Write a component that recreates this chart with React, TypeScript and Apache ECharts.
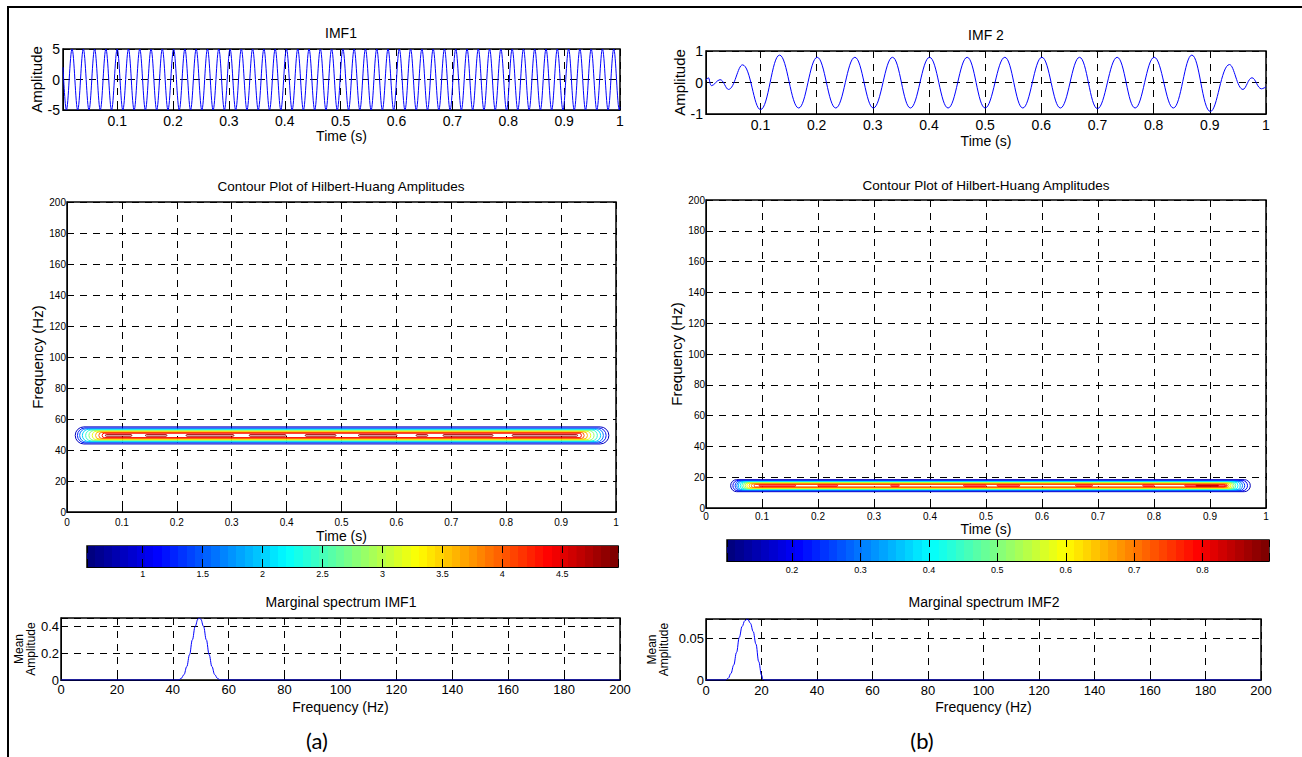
import React, { useEffect, useRef } from "react";
import * as echarts from "echarts";

const FONT = "'Liberation Sans', Arial, Helvetica, sans-serif";
const BLACK = "#000";
const BLUE = "#0000ff";
const DASH = [7, 6];

// ---------------- titles ----------------
const titleIMF1 = "IMF1";
const titleIMF2 = "IMF 2";
const titleContour = "Contour Plot of Hilbert-Huang Amplitudes";
const titleMarg1 = "Marginal spectrum IMF1";
const titleMarg2 = "Marginal spectrum IMF2";
const panelLabels = ["(a)", "(b)"];

// ---------------- IMF 1 (amplitude ±5, ~49.5 Hz) ----------------
const imfTimeMin = 0.003;
const imf1AmpRange = [-5, 5];
const imf1StartPoint = [0.003, 2.0];
const imf1FirstExtremumT = 0.0091; // time of first trough (s)
const imf1HalfPeriod = 0.0101; // spacing between successive extrema (s)
const imf1Extrema = [
  -5, 5, -5, 5, -5, 5, -5, 5, -5, 5,
  -5, 5, -5, 5, -5, 5, -5, 5, -5, 5,
  -5, 5, -5, 5, -5, 5, -5, 5, -5, 5,
  -5, 5, -5, 5, -5, 5, -5, 5, -5, 5,
  -5, 5, -5, 5, -5, 5, -5, 5, -5, 5,
  -5, 5, -5, 5, -5, 5, -5, 5, -5, 5,
  -5, 5, -5, 5, -5, 5, -5, 5, -5, 5,
  -5, 5, -5, 5, -5, 5, -5, 5, -5, 5,
  -5, 5, -5, 5, -5, 5, -5, 5, -5, 5,
  -5, 5, -5, 5, -5, 5, -5, 5, -5,
];
const imf1EndPoint = [1.0, -4.5];

// ---------------- IMF 2 (time, amplitude) extrema ----------------
const imf2AmpRange = [-1, 1];
const imf2Time = [
  0.003, 0.007, 0.013, 0.028, 0.043, 0.068, 0.1, 0.134, 0.168, 0.201, 0.234, 0.268,
  0.301, 0.335, 0.367, 0.401, 0.434, 0.468, 0.5, 0.535, 0.567, 0.601, 0.634, 0.668,
  0.7, 0.735, 0.767, 0.801, 0.835, 0.868, 0.901, 0.935, 0.959, 0.975, 0.992, 1.0,
];
const imf2Amp = [
  0.07, 0.15, -0.1, 0.09, -0.22, 0.56, -0.86, 0.87, -0.81, 0.8, -0.81, 0.8,
  -0.81, 0.8, -0.81, 0.8, -0.81, 0.8, -0.81, 0.8, -0.81, 0.8, -0.81, 0.8,
  -0.83, 0.8, -0.81, 0.8, -0.81, 0.87, -0.92, 0.57, -0.22, 0.15, -0.2, -0.14,
];

// ---------------- Contour IMF1 ----------------
const c1ColorRange = [0.535, 4.965];
const c1Levels = [0.8, 1.2, 1.6, 2.0, 2.4, 2.8, 3.2, 3.6, 4.0, 4.4];
const c1TStart = [0.015, 0.019, 0.023, 0.028, 0.034, 0.04, 0.046, 0.052, 0.058, 0.064];
const c1TEnd = [0.987, 0.982, 0.977, 0.972, 0.966, 0.96, 0.954, 0.948, 0.942, 0.937];
const c1FLow = [43.9, 44.6, 45.1, 45.5, 45.9, 46.3, 46.7, 47.1, 47.5, 48.0];
const c1FHigh = [54.9, 54.2, 53.7, 53.3, 52.9, 52.5, 52.1, 51.7, 51.3, 50.8];
const c1CoreLevel = 4.8;
const c1CoreF = [48.9, 49.9];
const c1CoreSegments = [
  [0.07, 0.118], [0.143, 0.182], [0.217, 0.304], [0.332, 0.399], [0.434, 0.49],
  [0.531, 0.601], [0.636, 0.657], [0.685, 0.776], [0.811, 0.93],
];

// ---------------- Contour IMF2 ----------------
const c2ColorRange = [0.105, 0.897];
const c2Levels = [0.15, 0.2, 0.25, 0.3, 0.35, 0.4, 0.45, 0.5, 0.55, 0.6, 0.65, 0.7, 0.75];
const c2TStart = [0.044, 0.048, 0.052, 0.055, 0.058, 0.061, 0.064, 0.067, 0.07, 0.073, 0.077, 0.081, 0.086];
const c2TEnd = [0.972, 0.967, 0.962, 0.958, 0.954, 0.95, 0.946, 0.943, 0.94, 0.937, 0.934, 0.931, 0.927];
const c2FLow = [10.6, 11.1, 11.4, 11.65, 11.9, 12.1, 12.3, 12.5, 12.7, 12.9, 13.15, 13.4, 13.65];
const c2FHigh = [18.4, 17.9, 17.6, 17.35, 17.1, 16.9, 16.7, 16.5, 16.3, 16.1, 15.85, 15.6, 15.35];
const c2CoreLevel = 0.8;
const c2CoreF = [14.1, 14.9];
const c2CoreSegments = [
  [0.095, 0.16], [0.2, 0.235], [0.33, 0.345], [0.46, 0.5], [0.52, 0.56],
  [0.66, 0.69], [0.78, 0.8], [0.855, 0.93],
];
const c2PeakLevel = 0.85;
const c2PeakF = [14.2, 14.7];
const c2PeakSegments = [[0.875, 0.915]];

// ---------------- Marginal spectra ----------------
const marg1Freq = [0, 42, 43, 44, 45, 46, 47, 48, 49, 49.5, 50, 51, 52, 53, 54, 55, 56, 57, 200];
const marg1Amp = [0, 0, 0.012, 0.04, 0.1, 0.19, 0.3, 0.4, 0.455, 0.463, 0.455, 0.4, 0.3, 0.19, 0.1, 0.04, 0.012, 0, 0];
const marg1Max = 0.463;
const marg2Freq = [0, 7, 8, 9, 10, 11, 12, 13, 14, 15, 16, 17, 18, 19, 20, 20.5, 21, 200];
const marg2Amp = [0, 0, 0.002, 0.008, 0.018, 0.033, 0.051, 0.064, 0.071, 0.073, 0.068, 0.058, 0.043, 0.022, 0.006, 0.001, 0, 0];
const marg2Max = 0.073;

// ---------------- helpers ----------------
function jet(x: number) {
  const c = (v: number) => Math.max(0, Math.min(1, v));
  const r = c(1.5 - Math.abs(4 * x - 3));
  const g = c(1.5 - Math.abs(4 * x - 2));
  const b = c(1.5 - Math.abs(4 * x - 1));
  return `rgb(${Math.round(r * 255)},${Math.round(g * 255)},${Math.round(b * 255)})`;
}

function jetGradient() {
  const n = 64;
  const stops: any[] = [];
  for (let i = 0; i < n; i++) {
    const col = jet(i / (n - 1));
    stops.push({ offset: i / n, color: col });
    stops.push({ offset: (i + 1) / n - 1e-4, color: col });
  }
  return new echarts.graphic.LinearGradient(0, 0, 1, 0, stops);
}

const tickFmt = (step: number) => (v: number) => {
  const k = Math.round(v / step);
  if (Math.abs(k * step - v) > step * 1e-6) return "";
  return String(+(k * step).toFixed(6));
};

function valueAxis(o: any) {
  return {
    type: "value",
    gridIndex: o.gridIndex,
    min: o.min,
    max: o.max,
    interval: o.interval,
    splitNumber: o.splitNumber,
    z: o.z,
    axisLine: { show: true, onZero: false, lineStyle: { color: BLACK, width: 1 } },
    axisTick: { show: true, inside: true, length: 4, lineStyle: { color: BLACK, width: 1 } },
    axisLabel: {
      show: o.showLabels !== false,
      color: BLACK,
      fontFamily: FONT,
      fontSize: o.fontSize,
      margin: o.margin,
      formatter: tickFmt(o.step),
      showMinLabel: true,
      showMaxLabel: true,
      hideOverlap: false,
    },
    splitLine: { show: o.splitLine !== false, lineStyle: { color: BLACK, width: 1, type: DASH } },
    name: o.name,
    nameLocation: "middle",
    nameGap: o.nameGap,
    nameTextStyle: { color: BLACK, fontFamily: FONT, fontSize: o.nameSize, lineHeight: o.nameLineHeight },
  };
}

function contourItems(levels: number[], t0: number[], t1: number[], f0: number[], f1: number[],
  coreLevel: number, coreF: number[], coreSeg: number[][]) {
  const items: number[][] = levels.map((lv, i) => [t0[i], t1[i], f0[i], f1[i], lv]);
  coreSeg.forEach((s) => items.push([s[0], s[1], coreF[0], coreF[1], coreLevel]));
  return items;
}

const contourRender = (range: number[]) => (_p: any, api: any) => {
  const a = api.coord([api.value(0), api.value(3)]);
  const b = api.coord([api.value(1), api.value(2)]);
  const w = b[0] - a[0];
  const h = b[1] - a[1];
  const lv = api.value(4);
  return {
    type: "rect",
    shape: { x: a[0], y: a[1], width: w, height: h, r: h / 2 },
    style: { fill: "none", stroke: jet((lv - range[0]) / (range[1] - range[0])), lineWidth: 1 },
  };
};

const colorbarRender = (grad: any) => (_p: any, api: any) => {
  const a = api.coord([api.value(0), 1]);
  const b = api.coord([api.value(1), 0]);
  return {
    type: "rect",
    shape: { x: a[0], y: a[1], width: b[0] - a[0], height: b[1] - a[1] },
    style: { fill: grad },
  };
};

function text(t: string, x: number, y: number, size: number, family = FONT) {
  return {
    type: "text",
    x,
    y,
    style: {
      text: t,
      fill: BLACK,
      font: `${size}px ${family}`,
      textAlign: "center",
      textVerticalAlign: "middle",
      align: "center",
      verticalAlign: "middle",
    },
    silent: true,
  };
}

function buildOption() {
  const grad = jetGradient();
  const gridBase = { show: true, borderColor: BLACK, borderWidth: 1.5, backgroundColor: "#fff", containLabel: false, outerBoundsMode: "none" };
  const grid = [
    { ...gridBase, left: 63, top: 49, width: 557, height: 61 },
    { ...gridBase, left: 706, top: 51, width: 560, height: 63 },
    { ...gridBase, left: 67, top: 202, width: 549, height: 310 },
    { ...gridBase, left: 706, top: 200, width: 560, height: 308 },
    { ...gridBase, left: 87, top: 546, width: 531, height: 21 },
    { ...gridBase, left: 727, top: 540, width: 542, height: 21 },
    { ...gridBase, left: 61, top: 618, width: 559, height: 62 },
    { ...gridBase, left: 706, top: 619, width: 555, height: 61 },
  ];

  const xAxis = [
    valueAxis({ gridIndex: 0, min: imfTimeMin, max: 1, splitNumber: 10, step: 0.1, fontSize: 14, margin: 4, name: "Time (s)", nameGap: 19, nameSize: 14 }),
    valueAxis({ gridIndex: 1, min: imfTimeMin, max: 1, splitNumber: 10, step: 0.1, fontSize: 14, margin: 4, name: "Time (s)", nameGap: 20, nameSize: 14 }),
    valueAxis({ gridIndex: 2, min: 0, max: 1, interval: 0.1, step: 0.1, fontSize: 10, margin: 5, name: "Time (s)", nameGap: 17, nameSize: 14 }),
    valueAxis({ gridIndex: 3, min: 0, max: 1, interval: 0.1, step: 0.1, fontSize: 10, margin: 3, name: "Time (s)", nameGap: 14, nameSize: 14 }),
    valueAxis({ gridIndex: 4, min: c1ColorRange[0], max: c1ColorRange[1], splitNumber: 9, step: 0.5, fontSize: 9, margin: 2, z: 5 }),
    valueAxis({ gridIndex: 5, min: c2ColorRange[0], max: c2ColorRange[1], splitNumber: 8, step: 0.1, fontSize: 9, margin: 4, z: 5 }),
    valueAxis({ gridIndex: 6, min: 0, max: 200, interval: 20, step: 20, fontSize: 13, margin: 3, name: "Frequency (Hz)", nameGap: 20, nameSize: 14 }),
    valueAxis({ gridIndex: 7, min: 0, max: 200, interval: 20, step: 20, fontSize: 13, margin: 4, name: "Frequency (Hz)", nameGap: 20, nameSize: 14 }),
  ];

  const yAxis = [
    valueAxis({ gridIndex: 0, min: imf1AmpRange[0], max: imf1AmpRange[1], interval: 5, step: 5, fontSize: 14, margin: 3, name: "Amplitude", nameGap: 16, nameSize: 15 }),
    valueAxis({ gridIndex: 1, min: imf2AmpRange[0], max: imf2AmpRange[1], interval: 1, step: 1, fontSize: 14, margin: 3, name: "Amplitude", nameGap: 14, nameSize: 15 }),
    valueAxis({ gridIndex: 2, min: 0, max: 200, interval: 20, step: 20, fontSize: 10, margin: 1, name: "Frequency (Hz)", nameGap: 17, nameSize: 15 }),
    valueAxis({ gridIndex: 3, min: 0, max: 200, interval: 20, step: 20, fontSize: 10, margin: 1, name: "Frequency (Hz)", nameGap: 14, nameSize: 15 }),
    { type: "value", gridIndex: 4, min: 0, max: 1, show: false },
    { type: "value", gridIndex: 5, min: 0, max: 1, show: false },
    valueAxis({ gridIndex: 6, min: 0, max: marg1Max, interval: 0.2, step: 0.2, fontSize: 13, margin: 2, name: "Mean\nAmplitude", nameGap: 22, nameSize: 12, nameLineHeight: 12 }),
    valueAxis({ gridIndex: 7, min: 0, max: marg2Max, interval: 0.05, step: 0.05, fontSize: 13, margin: 2, name: "Mean\nAmplitude", nameGap: 36, nameSize: 12, nameLineHeight: 12 }),
  ];

  const imf1Data = [
    imf1StartPoint,
    ...imf1Extrema.map((v, k) => [imf1FirstExtremumT + k * imf1HalfPeriod, v]),
    imf1EndPoint,
  ];
  const imf2Data = imf2Time.map((t, i) => [t, imf2Amp[i]]);
  const marg1Data = marg1Freq.map((f, i) => [f, marg1Amp[i]]);
  const marg2Data = marg2Freq.map((f, i) => [f, marg2Amp[i]]);

  const c1Data = contourItems(c1Levels, c1TStart, c1TEnd, c1FLow, c1FHigh, c1CoreLevel, c1CoreF, c1CoreSegments);
  const c2Data = contourItems(c2Levels, c2TStart, c2TEnd, c2FLow, c2FHigh, c2CoreLevel, c2CoreF, c2CoreSegments);
  c2PeakSegments.forEach((s) => c2Data.push([s[0], s[1], c2PeakF[0], c2PeakF[1], c2PeakLevel]));

  const lineBase = { type: "line", showSymbol: false, symbol: "none", silent: true, lineStyle: { color: BLUE, width: 1 }, itemStyle: { color: BLUE } };

  const series = [
    { ...lineBase, xAxisIndex: 0, yAxisIndex: 0, data: imf1Data, smooth: 0.36 },
    { ...lineBase, xAxisIndex: 1, yAxisIndex: 1, data: imf2Data, smooth: 0.4 },
    { type: "custom", xAxisIndex: 2, yAxisIndex: 2, data: c1Data, renderItem: contourRender(c1ColorRange), silent: true, z: 3 },
    { type: "custom", xAxisIndex: 3, yAxisIndex: 3, data: c2Data, renderItem: contourRender(c2ColorRange), silent: true, z: 3 },
    { type: "custom", xAxisIndex: 4, yAxisIndex: 4, data: [[c1ColorRange[0], c1ColorRange[1]]], renderItem: colorbarRender(grad), silent: true, z: 2 },
    { type: "custom", xAxisIndex: 5, yAxisIndex: 5, data: [[c2ColorRange[0], c2ColorRange[1]]], renderItem: colorbarRender(grad), silent: true, z: 2 },
    { ...lineBase, xAxisIndex: 6, yAxisIndex: 6, data: marg1Data, smooth: 0.4, smoothMonotone: "x" },
    { ...lineBase, xAxisIndex: 7, yAxisIndex: 7, data: marg2Data, smooth: 0.4, smoothMonotone: "x" },
  ];

  const graphic = [
    { type: "line", shape: { x1: 7, y1: 7, x2: 1302, y2: 7 }, style: { stroke: BLACK, lineWidth: 2 }, silent: true },
    { type: "line", shape: { x1: 8, y1: 6, x2: 8, y2: 757 }, style: { stroke: BLACK, lineWidth: 2 }, silent: true },
    text(titleIMF1, 341, 33, 14),
    text(titleIMF2, 986, 35, 14),
    text(titleContour, 341, 186, 13.5),
    text(titleContour, 986, 185, 13.5),
    text(titleMarg1, 341, 602, 14),
    text(titleMarg2, 984, 602, 14),
    text(panelLabels[0], 317, 740, 22, "Lato, 'DejaVu Sans', sans-serif"),
    text(panelLabels[1], 922, 740, 22, "Lato, 'DejaVu Sans', sans-serif"),
  ];

  return {
    animation: false,
    backgroundColor: "#fff",
    grid,
    xAxis,
    yAxis,
    series,
    graphic,
  };
}

export default function App() {
  const ref = useRef<HTMLDivElement>(null);
  useEffect(() => {
    document.body.style.margin = "0";
    const chart = echarts.init(ref.current as HTMLDivElement, undefined, { renderer: "svg", width: 1302, height: 757 });
    chart.setOption(buildOption() as any);
    return () => chart.dispose();
  }, []);
  return <div ref={ref} style={{ width: 1302, height: 757, background: "#fff" }} />;
}
